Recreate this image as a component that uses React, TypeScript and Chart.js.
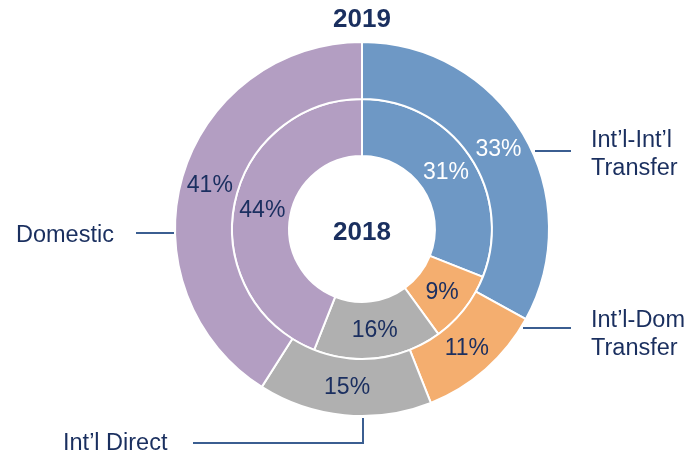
import React, { useEffect, useRef } from "react";
import { Chart, registerables } from "chart.js";

Chart.register(...registerables);

const categories = ["Int’l-Int’l Transfer", "Int’l-Dom Transfer", "Int’l Direct", "Domestic"];
const values2019 = [33, 11, 15, 41];
const values2018 = [31, 9, 16, 44];
const colors = ["#6E98C5", "#F4AE6F", "#B0B0B0", "#B39EC2"];
const pctColors = ["#FFFFFF", "#1B2F60", "#1B2F60", "#1B2F60"];
const outerTitle = "2019";
const innerTitle = "2018";

const FONT = "'Liberation Sans', Arial, sans-serif";
const NAVY = "#1A2F5F";
const LINE = "#3B5E91";

const labelsPlugin = {
  id: "nestedLabels",
  afterDatasetsDraw(chart: any) {
    const ctx = chart.ctx;
    ctx.save();
    chart.data.datasets.forEach((ds: any, di: number) => {
      const meta = chart.getDatasetMeta(di);
      meta.data.forEach((arc: any, i: number) => {
        const p = arc.tooltipPosition();
        ctx.font = `23px ${FONT}`;
        ctx.fillStyle = pctColors[i];
        ctx.textAlign = "center";
        ctx.textBaseline = "middle";
        ctx.fillText(ds.data[i] + "%", p.x, p.y + 1);
      });
    });
    const outer = chart.getDatasetMeta(0).data[0];
    const cx = outer.x;
    const cy = outer.y;
    const R = outer.outerRadius;

    ctx.font = `bold 26px ${FONT}`;
    ctx.fillStyle = NAVY;
    ctx.textAlign = "center";
    ctx.textBaseline = "middle";
    ctx.fillText(outerTitle, cx, 20);
    ctx.fillText(innerTitle, cx, cy + 4);

    ctx.strokeStyle = LINE;
    ctx.lineWidth = 2;
    const seg = (pts: number[][]) => {
      ctx.beginPath();
      ctx.moveTo(pts[0][0], pts[0][1]);
      for (let k = 1; k < pts.length; k++) ctx.lineTo(pts[k][0], pts[k][1]);
      ctx.stroke();
    };
    seg([[535, 151], [571, 151]]);
    seg([[523, 328], [571, 328]]);
    seg([[136, 233], [cx - R - 1, 233]]);
    seg([[193, 443], [cx + 1, 443], [cx + 1, cy + R + 2]]);

    ctx.font = `23.5px ${FONT}`;
    ctx.fillStyle = NAVY;
    ctx.textAlign = "left";
    ctx.textBaseline = "alphabetic";
    ctx.fillText("Int’l-Int’l", 591, 147);
    ctx.fillText("Transfer", 591, 175);
    ctx.fillText("Int’l-Dom", 591, 327);
    ctx.fillText("Transfer", 591, 355);
    ctx.fillText(categories[3], 16, 242);
    ctx.fillText(categories[2], 63, 450);
    ctx.restore();
  },
};

export default function App() {
  const ref = useRef<HTMLCanvasElement>(null);
  useEffect(() => {
    if (!ref.current) return;
    const chart = new Chart(ref.current, {
      type: "doughnut",
      data: {
        labels: categories,
        datasets: [
          {
            label: outerTitle,
            data: values2019,
            backgroundColor: colors,
            borderColor: "#FFFFFF",
            borderWidth: 2,
          },
          {
            label: innerTitle,
            data: values2018,
            backgroundColor: colors,
            borderColor: "#FFFFFF",
            borderWidth: 2,
          },
        ],
      },
      options: {
        responsive: false,
        animation: false,
        cutout: "39%",
        layout: { padding: { left: 174, right: 137, top: 41, bottom: 37 } },
        plugins: {
          legend: { display: false },
          tooltip: { enabled: false },
          title: { display: false },
        },
      },
      plugins: [labelsPlugin],
    });
    return () => chart.destroy();
  }, []);
  return (
    <div style={{ position: "absolute", left: 0, top: 0, width: 687, height: 454, background: "#FFFFFF" }}>
      <canvas ref={ref} width={687} height={454} style={{ display: "block" }} />
    </div>
  );
}
